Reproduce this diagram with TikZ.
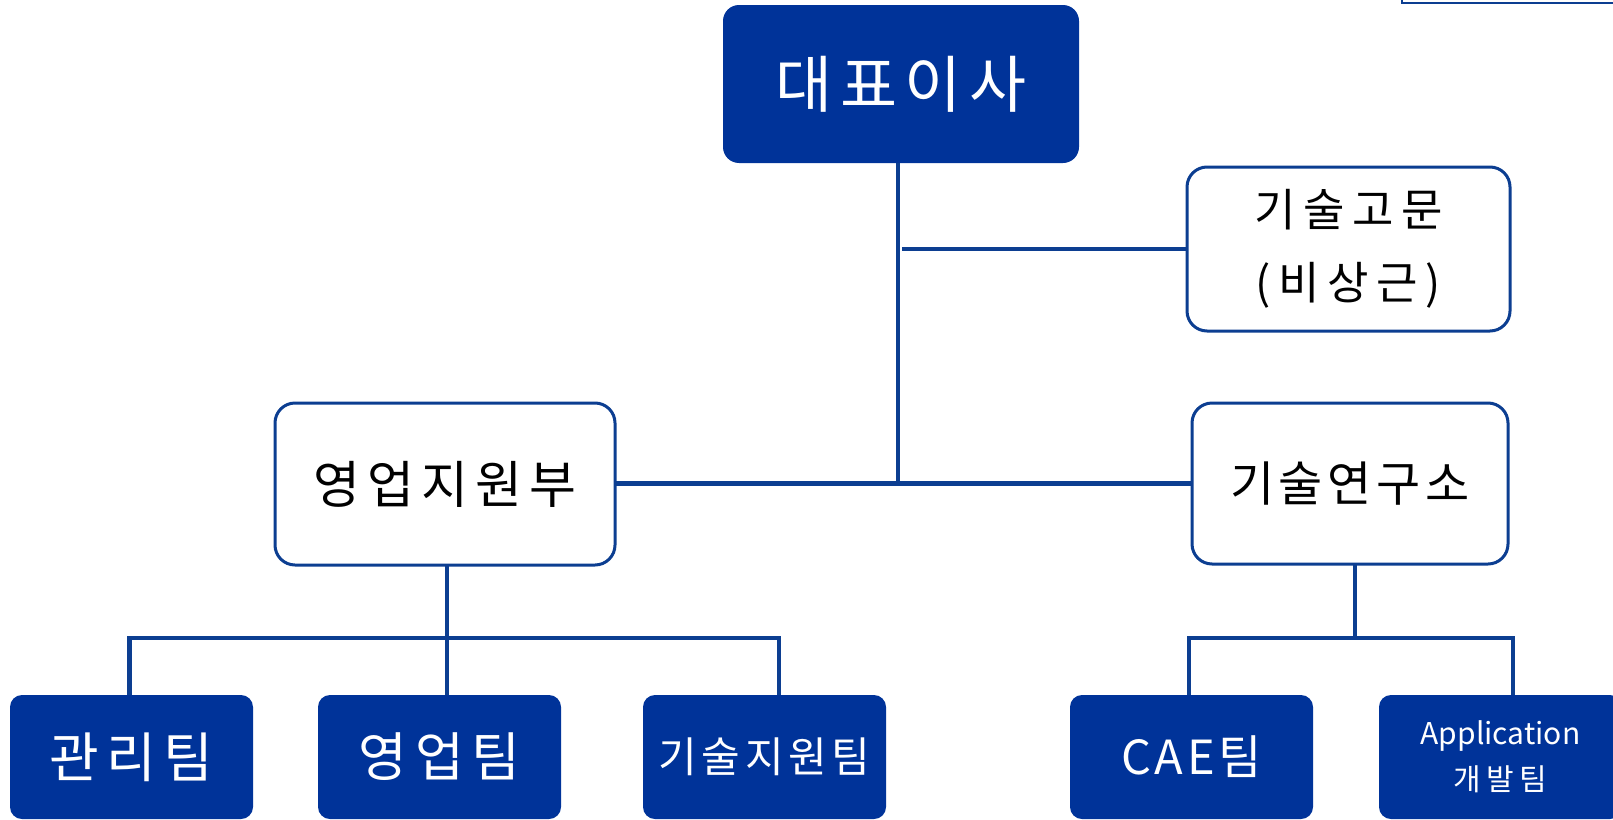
\documentclass[tikz,border=0pt]{standalone}
\usepackage{fontspec}
\setmainfont{Noto Sans CJK KR}
\definecolor{boxblue}{RGB}{0,51,153}
\definecolor{lineblue}{RGB}{12,62,145}
\newcommand\lsp[1]{\addfontfeatures{LetterSpace=#1}}
\begin{document}
\begin{tikzpicture}[x=1pt,y=-1pt,
  conn/.style={draw=lineblue,line width=4.5pt},
  whitebox/.style={draw=lineblue,line width=3pt,fill=white,rounded corners=20pt,
    text=black,align=center,inner sep=0pt,outer sep=0pt},
  bluebox/.style={fill=boxblue,rounded corners=12pt,text=white,align=center,
    inner sep=0pt,outer sep=0pt},
  teambox/.style={bluebox,minimum width=243pt,minimum height=124pt}]
\useasboundingbox (0,0) rectangle (1613,819);
\clip (0,0) rectangle (1613,819);
% partial frame at top right
\draw[lineblue,line width=2.5pt] (1402,-40) -- (1402,3) -- (1660,3);
% nodes
\node[bluebox,rounded corners=16pt,minimum width=356pt,minimum height=158pt,
  font=\fontsize{62}{70}\selectfont] (ceo) at (901,84) {\lsp{12}대표이사};
\node[whitebox,minimum width=323pt,minimum height=164pt,
  font=\fontsize{45}{73}\selectfont] (adv) at (1348.5,249)
  {\lsp{17}기술고문\\\lsp{17}(비상근)};
\node[whitebox,minimum width=340pt,minimum height=162pt,
  font=\fontsize{51}{60}\selectfont] (sales) at (445,484) {\lsp{14}영업지원부};
\node[whitebox,minimum width=316pt,minimum height=161pt,
  font=\fontsize{48}{60}\selectfont] (lab) at (1350,483.5) {\lsp{10}기술연구소};
\node[teambox,font=\fontsize{54}{60}\selectfont] (t1) at (131.5,757) {\lsp{14}관리팀};
\node[teambox,font=\fontsize{53}{60}\selectfont] (t2) at (439.5,757) {\lsp{14}영업팀};
\node[teambox,font=\fontsize{42}{50}\selectfont] (t3) at (764.5,757) {\lsp{11}기술지원팀};
\node[teambox,font=\fontsize{47}{55}\selectfont] (t4) at (1191.5,757) {\lsp{8}CAE팀};
\node[teambox,font=\fontsize{30}{46}\selectfont] (t5) at (1500.5,757)
  {Application\\\lsp{18}개발팀};
% coordinates
\coordinate (j) at (898,483.5);
\coordinate (ja) at (902,249);
\coordinate (bl) at (129.5,638);
\coordinate (bm) at (447,638);
\coordinate (br) at (779,638);
\coordinate (cl) at (1189,638);
\coordinate (cm) at (1355,638);
\coordinate (cr) at (1513,638);
% connectors
\draw[conn] (j |- ceo.south) -- (j);
\draw[conn] (ja) -- (adv.west);
\draw[conn] (sales.east |- j) -- (lab.west |- j);
\draw[conn] (bm |- sales.south) -- (bm);
\draw[conn] (bl |- t1.north) -- (bl) -- (br) -- (br |- t3.north);
\draw[conn] (bm) -- (bm |- t2.north);
\draw[conn] (cm |- lab.south) -- (cm);
\draw[conn] (cl |- t4.north) -- (cl) -- (cr) -- (cr |- t5.north);
\end{tikzpicture}
\end{document}
